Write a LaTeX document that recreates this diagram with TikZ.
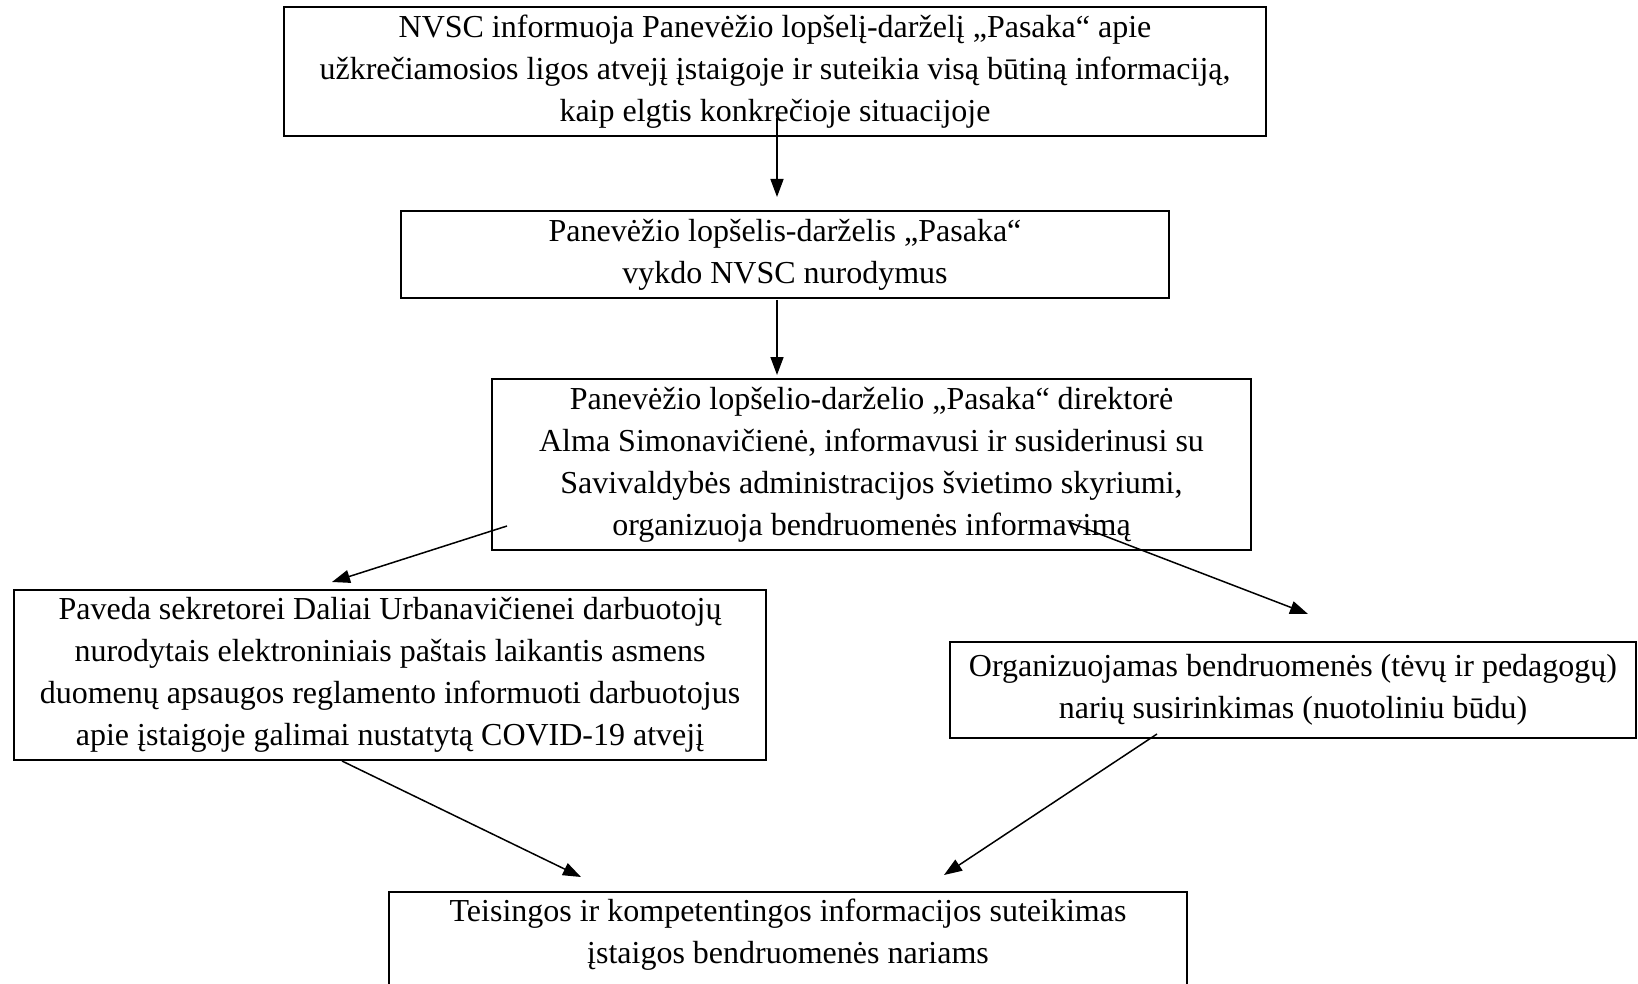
\documentclass[tikz,border=0pt]{standalone}
\usepackage{fontspec}
\setmainfont{Liberation Serif}
\usetikzlibrary{arrows.meta}
\begin{document}
\begin{tikzpicture}[x=1pt,y=-1pt,
  box/.style={draw, line width=2.3pt, rectangle, align=center, inner sep=0pt, font=\fontsize{32}{42}\selectfont},
  txt/.style={align=center, inner sep=0pt, font=\fontsize{32}{42}\selectfont},
  arr/.style={line width=1.5pt, -{Triangle[length=18pt,width=13pt]}}]
\useasboundingbox (0,0) rectangle (1638,984);
\node[box, minimum width=982pt, minimum height=129pt] (b1) at (775,71.5)
  {NVSC informuoja Panevėžio lopšelį-darželį „Pasaka“ apie\\
   užkrečiamosios ligos atvejį įstaigoje ir suteikia visą būtiną informaciją,\\
   kaip elgtis konkrečioje situacijoje};
\node[box, minimum width=768pt, minimum height=87pt] (b2) at (785,254.5)
  {Panevėžio lopšelis-darželis „Pasaka“\\ vykdo NVSC nurodymus};
\node[box, minimum width=759pt, minimum height=171pt] (b3) at (871.5,464.5)
  {Panevėžio lopšelio-darželio „Pasaka“ direktorė\\
   Alma Simonavičienė, informavusi ir susiderinusi su\\
   Savivaldybės administracijos švietimo skyriumi,\\
   organizuoja bendruomenės informavimą};
\node[box, minimum width=752pt, minimum height=170pt] (b4) at (390,675)
  {Paveda sekretorei Daliai Urbanavičienei darbuotojų\\
   nurodytais elektroniniais paštais laikantis asmens\\
   duomenų apsaugos reglamento informuoti darbuotojus\\
   apie įstaigoje galimai nustatytą COVID-19 atvejį};
\node[box, minimum width=686pt, minimum height=96pt] (b5) at (1293,690)
  {Organizuojamas bendruomenės (tėvų ir pedagogų)\\
   narių susirinkimas (nuotoliniu būdu)};
\node[draw, line width=2.3pt, rectangle, inner sep=0pt, minimum width=798pt, minimum height=118pt] (b6) at (788,951) {};
\node[txt] (t6) at (788,935)
  {Teisingos ir kompetentingos informacijos suteikimas\\
   įstaigos bendruomenės nariams};
\coordinate (a1s) at (777,118);
\coordinate (a1e) at (777,197);
\coordinate (a2s) at (777,300);
\coordinate (a2e) at (777,375);
\coordinate (a3s) at (507,526);
\coordinate (a3e) at (332,582);
\coordinate (a4s) at (1071,523);
\coordinate (a4e) at (1308,614);
\coordinate (a5s) at (342,761);
\coordinate (a5e) at (581,877);
\coordinate (a6s) at (1157,734);
\coordinate (a6e) at (944,875);
\draw[arr] (a1s) -- (a1e);
\draw[arr] (a2s) -- (a2e);
\draw[arr] (a3s) -- (a3e);
\draw[arr] (a4s) -- (a4e);
\draw[arr] (a5s) -- (a5e);
\draw[arr] (a6s) -- (a6e);
\end{tikzpicture}
\end{document}
